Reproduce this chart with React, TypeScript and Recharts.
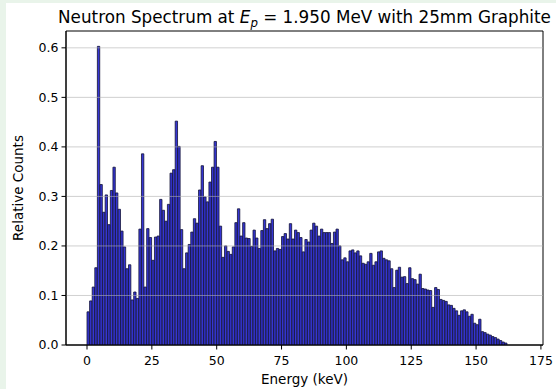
import { BarChart, Bar, XAxis, YAxis, ReferenceLine, ReferenceArea } from 'recharts'

// histogram: 1 keV bins starting at 0 keV
const binStart = 0
const binWidth = 1
const counts = [
  0.067, 0.089, 0.117, 0.156, 0.603, 0.324, 0.268, 0.303, 0.243, 0.312,
  0.359, 0.307, 0.274, 0.23, 0.198, 0.154, 0.162, 0.091, 0.107, 0.094,
  0.234, 0.386, 0.117, 0.235, 0.217, 0.171, 0.218, 0.22, 0.294, 0.272,
  0.25, 0.284, 0.347, 0.354, 0.452, 0.401, 0.233, 0.154, 0.186, 0.203,
  0.228, 0.255, 0.246, 0.313, 0.362, 0.299, 0.289, 0.329, 0.359, 0.411,
  0.359, 0.24, 0.177, 0.2, 0.189, 0.183, 0.198, 0.247, 0.275, 0.22,
  0.247, 0.216, 0.215, 0.199, 0.232, 0.216, 0.195, 0.231, 0.253, 0.235,
  0.245, 0.254, 0.19, 0.195, 0.193, 0.219, 0.225, 0.214, 0.245, 0.214,
  0.232, 0.227, 0.217, 0.188, 0.213, 0.208, 0.232, 0.246, 0.24, 0.22,
  0.234, 0.227, 0.227, 0.227, 0.205, 0.228, 0.234, 0.2, 0.172, 0.176,
  0.168, 0.19, 0.192, 0.186, 0.19, 0.18, 0.165, 0.163, 0.168, 0.185,
  0.161, 0.168, 0.188, 0.19, 0.175, 0.172, 0.17, 0.154, 0.116, 0.151,
  0.157, 0.137, 0.138, 0.124, 0.156, 0.134, 0.132, 0.123, 0.143, 0.114,
  0.113, 0.111, 0.11, 0.076, 0.116, 0.112, 0.092, 0.09, 0.088, 0.081,
  0.08, 0.074, 0.069, 0.06, 0.069, 0.071, 0.067, 0.058, 0.062, 0.044,
  0.041, 0.052, 0.027, 0.025, 0.022, 0.02, 0.017, 0.015, 0.012, 0.009,
  0.006, 0.004,
]

const xTicks = [0, 25, 50, 75, 100, 125, 150, 175]
const yTicks = [0, 0.1, 0.2, 0.3, 0.4, 0.5, 0.6]
const xDomain: [number, number] = [-8.1, 175.8]
const yDomain: [number, number] = [0, 0.634]

const data = counts.map((c, i) => ({ x: binStart + (i + 0.5) * binWidth, count: c }))

const FONT = '"DejaVu Sans", sans-serif'
const plotW = 477
const barW = (plotW * binWidth) / (xDomain[1] - xDomain[0])

export default function App() {
  return (
    <div style={{ position: 'absolute', left: 0, top: 0, width: 556, height: 389, background: '#e9f4ea', overflow: 'hidden' }}>
      <div style={{ position: 'absolute', left: 6, top: 3, width: 550, height: 386, background: '#fff', fontFamily: FONT }}>
        <div style={{ position: 'absolute', left: 0, top: 4, width: 597, textAlign: 'center', fontSize: 16.8, lineHeight: '20px', color: '#000', whiteSpace: 'nowrap' }}>
          Neutron Spectrum at <i>E</i><sub style={{ fontSize: '0.7em', fontStyle: 'italic', lineHeight: 0 }}>p</sub> = 1.950 MeV with 25mm Graphite
        </div>
        <BarChart width={550} height={386} data={data} margin={{ top: 28, right: 13, left: 0, bottom: 0 }} barCategoryGap={0} barGap={0}>
          <XAxis
            dataKey="x"
            type="number"
            domain={xDomain}
            ticks={xTicks}
            allowDataOverflow
            height={44}
            tickSize={4.5}
            tickMargin={7}
            axisLine={{ stroke: '#000' }}
            tickLine={{ stroke: '#000' }}
            tick={{ fontSize: 12.5, fill: '#000', fontFamily: FONT }}
            label={{ value: 'Energy (keV)', position: 'insideBottom', offset: 5, style: { fontSize: 13.5, fill: '#000', fontFamily: FONT } }}
          />
          <YAxis
            type="number"
            domain={yDomain}
            ticks={yTicks}
            allowDataOverflow
            width={60}
            tickSize={4.5}
            tickMargin={3}
            axisLine={{ stroke: '#000' }}
            tickLine={{ stroke: '#000' }}
            tickFormatter={(v: number) => v.toFixed(1)}
            tick={{ fontSize: 12.5, fill: '#000', fontFamily: FONT }}
            label={{ value: 'Relative Counts', angle: -90, position: 'insideLeft', offset: 12.5, style: { fontSize: 13.5, fill: '#000', fontFamily: FONT, textAnchor: 'middle' } }}
          />
          <Bar dataKey="count" fill="#3535d4" stroke="#121236" strokeWidth={0.8} barSize={barW} isAnimationActive={false} />
          {yTicks.slice(1).map(t => (
            <ReferenceLine key={t} y={t} stroke="#b0b0b0" strokeOpacity={0.6} strokeWidth={1} />
          ))}
          <ReferenceArea x1={xDomain[0]} x2={xDomain[1]} y1={yDomain[0]} y2={yDomain[1]} fill="none" stroke="#000" strokeWidth={1} />
        </BarChart>
      </div>
    </div>
  )
}
